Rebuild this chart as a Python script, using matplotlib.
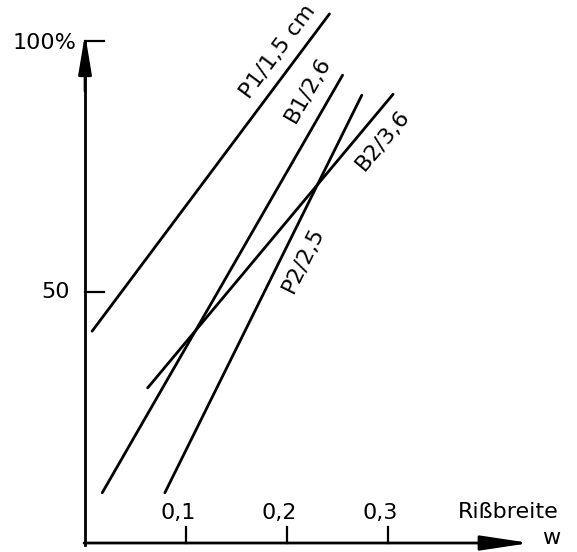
import numpy as np
import matplotlib
matplotlib.use("Agg")
import matplotlib.pyplot as plt

# Geraden (Anfangs- und Endpunkt)
namen = ["P1/1,5 cm", "B1/2,6", "P2/2,5", "B2/3,6"]
x_anf = [0.007, 0.017, 0.079, 0.062]
y_anf = [42.2, 10.0, 10.0, 30.9]
x_end = [0.242, 0.255, 0.274, 0.305]
y_end = [105.4, 93.2, 89.2, 89.4]

# Beschriftung der Geraden (Mitte des Textes)
lab_x = [0.191, 0.221, 0.216, 0.295]
lab_y = [97.8, 90.2, 56.4, 80.3]

x_ticks = [0.1, 0.2, 0.3]
x_ticklabels = ["0,1", "0,2", "0,3"]

plt.rcParams['font.family'] = ['DejaVu Sans']

fig = plt.figure(figsize=(5.77, 5.52), dpi=100)
ax = fig.add_axes([0, 0, 1, 1])
ax.set_xlim(-0.0842, 0.4871)
ax.set_ylim(-1.79, 108.17)
ax.axis('off')

lw = 2.0
# Achsen mit Pfeilen (Pfeilspitze endet sonst etwas zu tief)
ax.plot([0, 0], [-0.3, 95], color='black', lw=lw)
ax.annotate('', xy=(0, 101.4), xytext=(0, 90),
            arrowprops=dict(arrowstyle='-|>,head_length=2.4,head_width=0.4',
                            color='black', lw=lw, shrinkA=0, shrinkB=0))
ax.annotate('', xy=(0.4406, 0), xytext=(-0.001, 0),
            arrowprops=dict(arrowstyle='-|>,head_length=3.0,head_width=0.45',
                            color='black', lw=lw, shrinkA=0, shrinkB=0))

# Teilstriche
for xt, tl in zip(x_ticks, x_ticklabels):
    ax.plot([xt, xt], [0, 3.2], color='black', lw=1.6)
    ax.text(xt - 0.008, 6.0, tl, ha='center', va='center', fontsize=16)
ax.plot([0, 0.019], [50, 50], color='black', lw=1.6)
ax.text(-0.015, 50, "50", ha='right', va='center', fontsize=16)
ax.plot([0, 0], [95, 100], color='black', lw=lw)
ax.plot([0, 0.019], [100, 100], color='black', lw=1.6)
ax.text(-0.009, 99.6, "100%", ha='right', va='center', fontsize=16)

ax.text(0.419, 6.2, "Rißbreite", ha='center', va='center', fontsize=16)
ax.text(0.462, 1.0, "w", ha='center', va='center', fontsize=16)

# Geraden
for i in range(len(namen)):
    ax.plot([x_anf[i], x_end[i]], [y_anf[i], y_end[i]], color='black', lw=lw,
            solid_capstyle='round')
    p0 = ax.transData.transform((x_anf[i], y_anf[i]))
    p1 = ax.transData.transform((x_end[i], y_end[i]))
    winkel = np.degrees(np.arctan2(p1[1] - p0[1], p1[0] - p0[0]))
    ax.text(lab_x[i], lab_y[i], namen[i], rotation=winkel, rotation_mode='anchor',
            ha='center', va='center', fontsize=16)

fig.savefig("out.png", dpi=100)
